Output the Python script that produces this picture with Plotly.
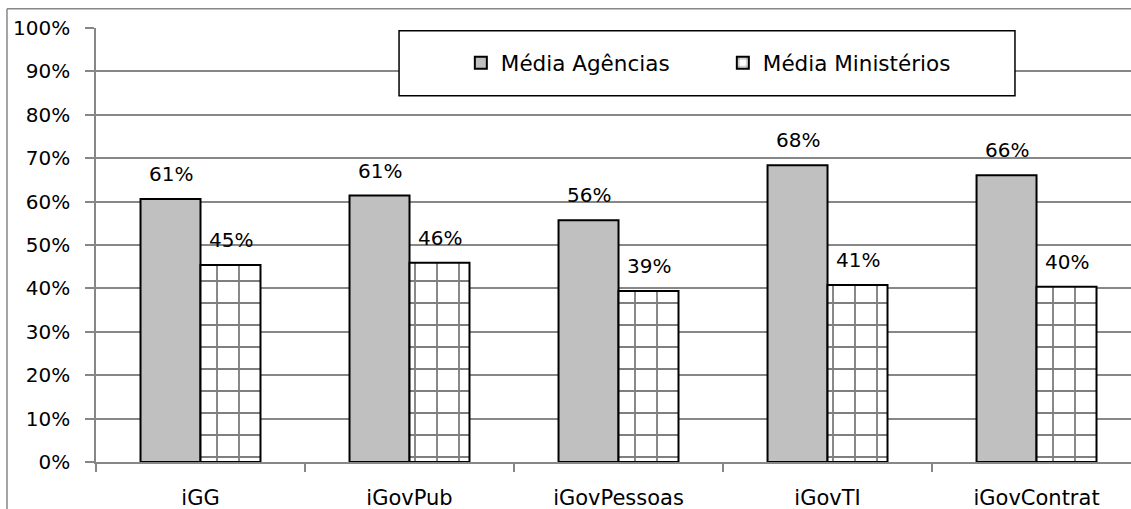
import plotly.graph_objects as go

categories = ["iGG", "iGovPub", "iGovPessoas", "iGovTI", "iGovContrat"]
agencias = [0.606, 0.614, 0.557, 0.684, 0.661]
ministerios = [0.454, 0.459, 0.394, 0.408, 0.404]
series_names = ["Média Agências", "Média Ministérios"]
ytick_vals = [i / 10 for i in range(11)]

FONT = "DejaVu Sans"
GRID = "#878787"

fig = go.Figure()
fig.add_trace(go.Bar(
    x=categories, y=agencias, name=series_names[0],
    marker=dict(color="#c0c0c0", line=dict(color="black", width=2)),
))
fig.add_trace(go.Bar(
    x=categories, y=ministerios, name=series_names[1],
    marker=dict(color="white", line=dict(color="black", width=2),
                pattern=dict(shape="+", fgcolor="black", bgcolor="white",
                             size=22, solidity=0.16, fillmode="overlay")),
))

annotations = []
for i, c in enumerate(categories):
    for v, dx in ((agencias[i], -30), (ministerios[i], 30)):
        annotations.append(dict(
            x=c, y=v, xref="x", yref="y", text=f"{v:.0%}", showarrow=False,
            xshift=dx, yshift=25, font=dict(family=FONT, size=20, color="black"),
        ))

shapes = [
    # legend frame
    dict(type="rect", xref="paper", yref="paper", x0=0.2928, x1=0.8879,
         y0=0.8438, y1=0.9937, line=dict(color="black", width=1.5),
         fillcolor="white", layer="above"),
    # outer chart border (left and top)
    dict(type="line", xref="paper", yref="paper", x0=-0.086, x1=-0.086,
         y0=1.0445, y1=-0.12, line=dict(color=GRID, width=1.5)),
    dict(type="line", xref="paper", yref="paper", x0=-0.086, x1=1.01,
         y0=1.0445, y1=1.0445, line=dict(color=GRID, width=1.5)),
]

fig.update_layout(
    width=1131, height=509, autosize=False,
    margin=dict(l=96, r=0, t=28, b=47),
    paper_bgcolor="white", plot_bgcolor="white",
    barmode="group", bargap=0.426, bargroupgap=0,
    font=dict(family=FONT, size=20, color="black"),
    showlegend=True,
    legend=dict(orientation="h", x=0.3525, y=0.92, xanchor="left", yanchor="middle",
                bgcolor="rgba(0,0,0,0)", borderwidth=0,
                font=dict(family=FONT, size=21.5, color="black"),
                entrywidth=217, entrywidthmode="pixels"),
    annotations=annotations,
    shapes=shapes,
)
fig.update_xaxes(
    type="category", range=[-0.5, 4.452], showgrid=False,
    showline=True, linecolor=GRID, linewidth=1.5,
    ticks="outside", tickson="boundaries", ticklen=8, tickcolor=GRID, tickwidth=1.5,
    tickfont=dict(family=FONT, size=21), ticklabelstandoff=16,
)
fig.update_yaxes(
    range=[0, 1], tickvals=ytick_vals, tickformat=".0%",
    showgrid=True, gridcolor=GRID, gridwidth=1.5, zeroline=False,
    showline=True, linecolor=GRID, linewidth=1.5,
    ticks="outside", ticklen=9, tickcolor=GRID, tickwidth=1.5,
    tickfont=dict(family=FONT, size=20), ticklabelstandoff=11,
)

fig.write_html("out.html")
